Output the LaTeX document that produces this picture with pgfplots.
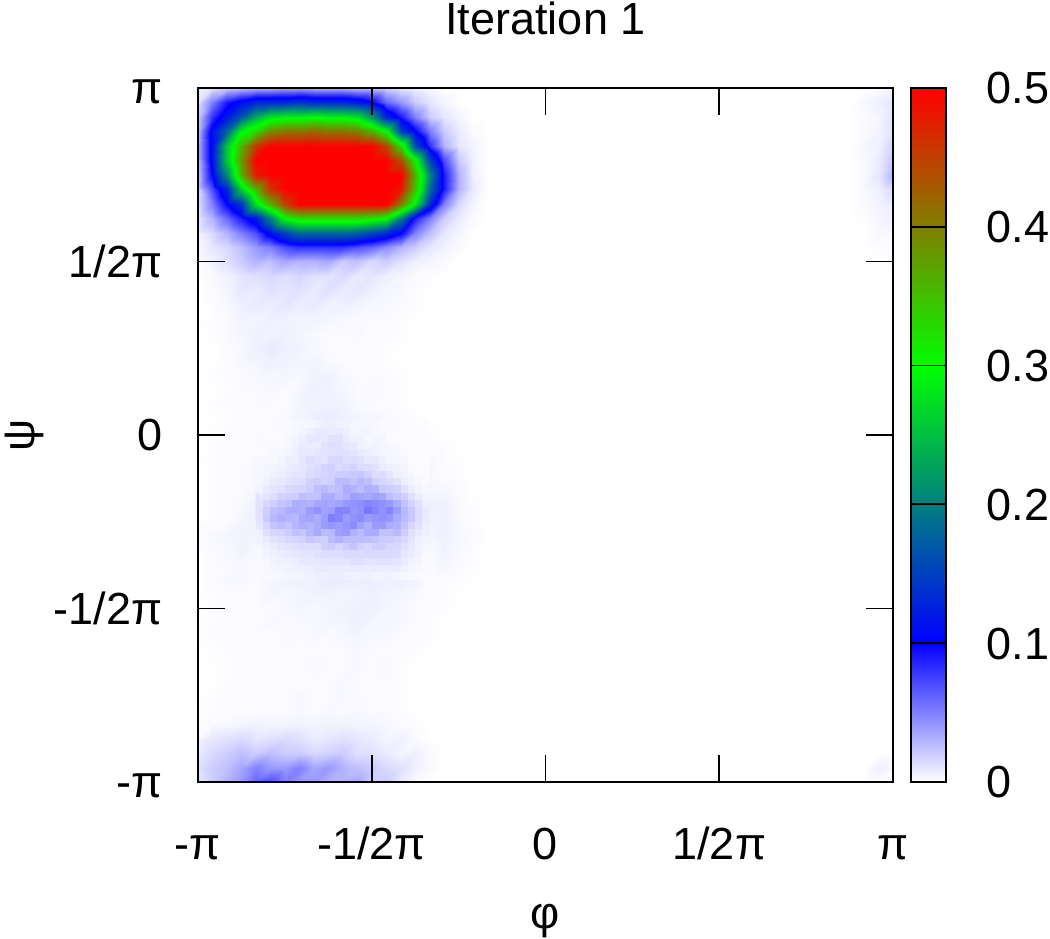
\documentclass[border=0pt]{standalone}
\usepackage{fontspec}
\setmainfont{Liberation Sans}
\usepackage{pgfplots}
\pgfplotsset{compat=1.18}
\pgfplotsset{colormap={gp}{rgb255(0)=(255,255,255) rgb255(1)=(0,0,255) rgb255(3)=(0,255,0) rgb255(5)=(255,0,0)}}
\newcommand{\lab}{\fontsize{45}{47}\selectfont}
\begin{document}
\begin{tikzpicture}[x=1pt,y=1pt]
\path[use as bounding box] (0,0) rectangle (1050,939);
\begin{axis}[
  at={(198pt,157pt)}, anchor=south west,
  scale only axis, width=695pt, height=694pt,
  xmin=-1, xmax=1, ymin=-1, ymax=1,
  axis on top, clip=true, colormap name=gp,
  axis line style={line width=1.8pt,black},
  tick style={line width=1.8pt,black},
  tick align=inside, major tick length=27pt,
  xtick={-1,-0.5,0,0.5,1}, ytick={-1,-0.5,0,0.5,1},
  xticklabels={-π,-1/2π,0,1/2π,π}, yticklabels={-π,-1/2π,0,1/2π,π},
  ticklabel style={font=\lab},
  xticklabel style={anchor=base, yshift=-78pt},
  yticklabel style={anchor=base east, xshift=-32pt, yshift=-16pt},
  point meta min=0, point meta max=0.5,
  title={Iteration 1},
  title style={font=\lab, at={(0.5,1)}, anchor=base, yshift=47pt},
  xlabel={φ}, xlabel style={font=\lab, at={(0.5,-0.2)}, anchor=center},
  ylabel={ψ}, ylabel style={font=\lab, inner sep=0pt, at={(-0.25,0.5)}, anchor=center, rotate=0},
]
\addplot[surf, shader=interp, mesh/cols=21, mesh/rows=49, point meta=\thisrowno{0}]
 table[header=false, row sep=crcr, x expr={-1+mod(\coordindex,21)/24}, y expr={1-floor(\coordindex/21)/24}, y index=0] {
.005\\.012\\.02\\.025\\.03\\.03\\.035\\.035\\.03\\.03\\.03\\.025\\.025\\.018\\.01\\.006\\.003\\0\\0\\0\\0\\
.012\\.05\\.09\\.11\\.13\\.13\\.13\\.14\\.13\\.13\\.13\\.12\\.1\\.06\\.04\\.02\\.01\\.004\\0\\0\\0\\
.02\\.08\\.12\\.17\\.24\\.28\\.29\\.29\\.3\\.29\\.29\\.28\\.22\\.13\\.09\\.05\\.02\\.01\\.004\\0\\0\\
.025\\.11\\.18\\.29\\.33\\.39\\.41\\.41\\.42\\.41\\.41\\.4\\.36\\.3\\.15\\.1\\.05\\.02\\.008\\.002\\0\\
.03\\.11\\.26\\.36\\.46\\.5\\.5\\.5\\.5\\.5\\.5\\.5\\.5\\.45\\.33\\.16\\.08\\.03\\.01\\.004\\0\\
.03\\.11\\.26\\.38\\.5\\.5\\.5\\.5\\.5\\.5\\.5\\.5\\.5\\.5\\.44\\.31\\.15\\.07\\.02\\.005\\0\\
.025\\.1\\.21\\.36\\.48\\.5\\.5\\.5\\.5\\.5\\.5\\.5\\.5\\.5\\.5\\.36\\.2\\.09\\.03\\.006\\0\\
.02\\.07\\.13\\.26\\.36\\.46\\.5\\.5\\.5\\.5\\.5\\.5\\.5\\.5\\.48\\.35\\.18\\.09\\.03\\.008\\0\\
.015\\.05\\.1\\.14\\.28\\.36\\.45\\.5\\.5\\.5\\.5\\.5\\.5\\.5\\.4\\.29\\.13\\.05\\.015\\.004\\0\\
.01\\.03\\.06\\.09\\.12\\.2\\.3\\.33\\.33\\.33\\.33\\.33\\.32\\.3\\.2\\.09\\.05\\.02\\.008\\.002\\0\\
.008\\.015\\.03\\.05\\.07\\.11\\.15\\.18\\.18\\.18\\.18\\.17\\.15\\.13\\.1\\.05\\.025\\.01\\.004\\0\\0\\
.004\\.01\\.015\\.025\\.04\\.05\\.07\\.08\\.08\\.08\\.08\\.07\\.06\\.045\\.03\\.02\\.01\\.005\\.002\\0\\0\\
.002\\.005\\.012\\.02\\.03\\.025\\.035\\.03\\.03\\.035\\.02\\.025\\.015\\.02\\.012\\.006\\.004\\.002\\0\\0\\0\\
.001\\.002\\.005\\.01\\.012\\.015\\.012\\.016\\.012\\.011\\.014\\.008\\.01\\.006\\.004\\.002\\.001\\0\\0\\0\\0\\
0\\.002\\.004\\.01\\.008\\.012\\.01\\.012\\.008\\.012\\.008\\.01\\.006\\.004\\.003\\.001\\0\\0\\0\\0\\0\\
0\\.001\\.003\\.006\\.008\\.007\\.01\\.007\\.008\\.005\\.006\\.005\\.003\\.003\\.002\\.001\\0\\0\\0\\0\\0\\
0\\.001\\.002\\.005\\.004\\.006\\.005\\.004\\.005\\.004\\.003\\.002\\.002\\.002\\.001\\0\\0\\0\\0\\0\\0\\
0\\.001\\.002\\.004\\.006\\.005\\.006\\.004\\.003\\.002\\.002\\.003\\.001\\.002\\.001\\0\\0\\0\\0\\0\\0\\
0\\0\\.002\\.003\\.006\\.008\\.006\\.005\\.003\\.002\\.001\\.002\\.001\\.001\\0\\0\\0\\0\\0\\0\\0\\
0\\0\\.001\\.003\\.004\\.006\\.005\\.004\\.005\\.003\\.002\\.001\\.001\\.001\\0\\0\\0\\0\\0\\0\\0\\
0\\.001\\.001\\.002\\.003\\.003\\.004\\.003\\.005\\.006\\.003\\.002\\.002\\.002\\.001\\0\\0\\0\\0\\0\\0\\
0\\0\\.001\\.002\\.002\\.003\\.002\\.004\\.006\\.005\\.004\\.002\\.003\\.002\\.001\\0\\0\\0\\0\\0\\0\\
0\\.001\\.001\\.001\\.002\\.002\\.002\\.004\\.005\\.006\\.005\\.003\\.002\\.002\\.001\\0\\0\\0\\0\\0\\0\\
0\\0\\.001\\.001\\.002\\.002\\.003\\.004\\.007\\.008\\.006\\.005\\.004\\.003\\.002\\.001\\0\\0\\0\\0\\0\\
0\\.001\\.001\\.002\\.002\\.002\\.003\\.006\\.01\\.012\\.009\\.008\\.006\\.004\\.003\\.002\\.001\\0\\0\\0\\0\\
0\\.001\\.001\\.002\\.002\\.003\\.005\\.008\\.012\\.013\\.012\\.011\\.009\\.007\\.004\\.003\\.002\\.001\\0\\0\\0\\
0\\.001\\.001\\.002\\.003\\.004\\.006\\.008\\.013\\.016\\.016\\.014\\.016\\.012\\.007\\.004\\.003\\.001\\.001\\0\\0\\
0\\.001\\.002\\.002\\.003\\.006\\.01\\.012\\.016\\.02\\.02\\.018\\.022\\.02\\.012\\.007\\.003\\.002\\.001\\0\\0\\
0\\.001\\.002\\.002\\.004\\.008\\.014\\.018\\.022\\.025\\.03\\.025\\.03\\.03\\.02\\.016\\.004\\.004\\.002\\0\\0\\
0\\.001\\.002\\.003\\.006\\.012\\.022\\.026\\.028\\.032\\.038\\.035\\.042\\.035\\.032\\.022\\.006\\.006\\.002\\.001\\0\\
0\\.001\\.002\\.004\\.005\\.012\\.02\\.024\\.028\\.032\\.042\\.035\\.036\\.034\\.028\\.024\\.005\\.006\\.003\\.001\\0\\
.001\\.003\\.004\\.005\\.004\\.008\\.012\\.015\\.02\\.022\\.02\\.028\\.03\\.022\\.022\\.018\\.004\\.006\\.003\\.002\\0\\
.001\\.002\\.003\\.005\\.003\\.007\\.008\\.01\\.012\\.018\\.016\\.018\\.016\\.016\\.016\\.012\\.002\\.005\\.003\\.001\\0\\
0\\.002\\.002\\.003\\.002\\.005\\.006\\.008\\.008\\.01\\.01\\.012\\.01\\.012\\.014\\.01\\.002\\.004\\.002\\.001\\0\\
0\\.002\\.003\\.003\\.002\\.004\\.005\\.006\\.006\\.008\\.008\\.007\\.007\\.006\\.007\\.005\\.001\\.002\\.001\\0\\0\\
0\\.001\\.002\\.002\\.002\\.004\\.003\\.004\\.005\\.005\\.004\\.005\\.006\\.004\\.004\\.003\\.002\\.001\\0\\0\\0\\
0\\.001\\.001\\.002\\.002\\.002\\.003\\.004\\.003\\.004\\.005\\.006\\.006\\.004\\.003\\.002\\.001\\.001\\0\\0\\0\\
0\\.001\\.001\\.002\\.002\\.003\\.002\\.003\\.003\\.004\\.004\\.006\\.004\\.004\\.003\\.002\\.001\\0\\0\\0\\0\\
.001\\.001\\.002\\.001\\.002\\.001\\.003\\.002\\.003\\.002\\.003\\.004\\.003\\.003\\.002\\.002\\.001\\0\\0\\0\\0\\
0\\.001\\.001\\.001\\.002\\.001\\.002\\.001\\.002\\.002\\.002\\.003\\.002\\.002\\.001\\.001\\0\\0\\0\\0\\0\\
0\\0\\.001\\.001\\.001\\.002\\.001\\.002\\.003\\.002\\.002\\.003\\.002\\.003\\.001\\0\\0\\0\\0\\0\\0\\
0\\0\\.001\\.001\\.001\\.001\\.002\\.001\\.002\\.002\\.003\\.002\\.002\\.002\\.001\\0\\0\\0\\0\\0\\0\\
0\\.001\\.001\\.001\\.001\\.002\\.002\\.003\\.002\\.002\\.003\\.002\\.002\\.001\\.001\\0\\0\\0\\0\\0\\0\\
0\\.001\\.001\\.002\\.001\\.002\\.002\\.003\\.002\\.003\\.002\\.003\\.002\\.002\\.001\\0\\0\\0\\0\\0\\0\\
.001\\.002\\.003\\.004\\.005\\.004\\.004\\.005\\.004\\.005\\.005\\.004\\.004\\.003\\.002\\.001\\0\\0\\0\\0\\0\\
.002\\.01\\.012\\.015\\.01\\.012\\.015\\.012\\.008\\.01\\.012\\.01\\.008\\.004\\.006\\.002\\0\\0\\0\\0\\0\\
.005\\.015\\.02\\.025\\.02\\.025\\.02\\.02\\.015\\.018\\.02\\.012\\.012\\.008\\.004\\.006\\.002\\0\\0\\0\\0\\
.012\\.02\\.025\\.035\\.05\\.04\\.04\\.05\\.035\\.04\\.03\\.025\\.02\\.015\\.012\\.006\\.002\\0\\0\\0\\0\\
.01\\.02\\.03\\.04\\.06\\.07\\.05\\.04\\.04\\.03\\.03\\.035\\.02\\.02\\.008\\.002\\0\\0\\0\\0\\0\\
};
\addplot[surf, shader=flat mean, mesh/cols=25, mesh/rows=23, point meta=\thisrowno{0}]
 table[header=false, row sep=crcr, x expr={-1+(4+mod(\coordindex,25)/2)/24}, y expr={1-(23+floor(\coordindex/25)/2)/24}, y index=0] {
.002\\.002\\.002\\.002\\.002\\.003\\.003\\.003\\.004\\.004\\.006\\.006\\.005\\.005\\.004\\.004\\.003\\.003\\.003\\.002\\.002\\.002\\.001\\.001\\.001\\
.002\\.002\\.002\\.003\\.002\\.002\\.004\\.004\\.003\\.008\\.009\\.005\\.006\\.004\\.002\\.004\\.005\\.002\\.002\\.003\\.002\\.001\\.001\\.001\\.001\\
.002\\.002\\.001\\.001\\.003\\.004\\.003\\.007\\.011\\.012\\.005\\.011\\.013\\.004\\.005\\.006\\.002\\.004\\.003\\.001\\.001\\.002\\.001\\.001\\.001\\
.002\\.003\\.002\\.002\\.002\\.005\\.006\\.009\\.01\\.005\\.012\\.016\\.008\\.006\\.009\\.003\\.003\\.006\\.002\\.002\\.002\\.001\\.001\\.001\\.001\\
.002\\.001\\.003\\.004\\.002\\.004\\.008\\.007\\.004\\.013\\.015\\.009\\.012\\.013\\.007\\.004\\.008\\.003\\.003\\.005\\.002\\.002\\.002\\.001\\.001\\
.002\\.002\\.004\\.002\\.005\\.006\\.009\\.012\\.013\\.01\\.006\\.015\\.016\\.008\\.012\\.012\\.005\\.005\\.006\\.002\\.003\\.003\\.001\\.001\\.001\\
.002\\.004\\.003\\.003\\.008\\.007\\.005\\.013\\.016\\.008\\.018\\.02\\.011\\.016\\.018\\.007\\.012\\.011\\.003\\.004\\.006\\.002\\.002\\.002\\.001\\
.003\\.003\\.005\\.007\\.004\\.01\\.012\\.008\\.011\\.02\\.023\\.012\\.014\\.024\\.013\\.017\\.018\\.006\\.01\\.008\\.003\\.004\\.002\\.001\\.002\\
.003\\.005\\.004\\.008\\.009\\.012\\.006\\.017\\.019\\.013\\.012\\.027\\.026\\.016\\.03\\.026\\.01\\.02\\.018\\.005\\.008\\.006\\.003\\.002\\.002\\
.003\\.004\\.009\\.012\\.007\\.014\\.018\\.012\\.024\\.026\\.018\\.02\\.036\\.03\\.019\\.036\\.028\\.016\\.012\\.022\\.01\\.005\\.005\\.003\\.002\\
.004\\.006\\.012\\.008\\.018\\.02\\.012\\.026\\.017\\.034\\.032\\.024\\.022\\.042\\.03\\.022\\.04\\.032\\.024\\.02\\.018\\.012\\.006\\.004\\.003\\
.005\\.013\\.011\\.02\\.024\\.014\\.032\\.03\\.022\\.024\\.04\\.036\\.028\\.03\\.05\\.044\\.03\\.048\\.034\\.022\\.028\\.017\\.014\\.006\\.004\\
.008\\.017\\.018\\.028\\.018\\.042\\.038\\.026\\.044\\.05\\.028\\.032\\.05\\.056\\.034\\.05\\.068\\.036\\.056\\.05\\.03\\.022\\.016\\.01\\.005\\
.01\\.012\\.03\\.024\\.038\\.03\\.022\\.04\\.046\\.03\\.036\\.058\\.054\\.032\\.042\\.046\\.05\\.038\\.04\\.048\\.026\\.032\\.015\\.012\\.006\\
.008\\.014\\.024\\.032\\.03\\.02\\.04\\.036\\.024\\.03\\.056\\.05\\.03\\.04\\.06\\.032\\.03\\.05\\.046\\.03\\.03\\.02\\.018\\.009\\.005\\
.006\\.012\\.012\\.026\\.016\\.024\\.03\\.022\\.038\\.042\\.028\\.03\\.046\\.05\\.03\\.024\\.038\\.04\\.024\\.03\\.032\\.014\\.012\\.008\\.005\\
.004\\.008\\.015\\.012\\.014\\.026\\.018\\.02\\.034\\.02\\.018\\.036\\.04\\.022\\.022\\.034\\.036\\.018\\.016\\.028\\.018\\.016\\.008\\.006\\.004\\
.003\\.006\\.006\\.012\\.013\\.01\\.012\\.02\\.014\\.012\\.024\\.028\\.016\\.028\\.03\\.016\\.014\\.024\\.024\\.012\\.014\\.012\\.006\\.004\\.003\\
.003\\.004\\.007\\.006\\.009\\.012\\.014\\.008\\.01\\.018\\.02\\.01\\.014\\.022\\.012\\.012\\.02\\.018\\.01\\.018\\.016\\.007\\.008\\.004\\.002\\
.002\\.004\\.004\\.006\\.008\\.006\\.007\\.012\\.012\\.008\\.008\\.014\\.014\\.008\\.016\\.017\\.01\\.012\\.016\\.014\\.008\\.008\\.005\\.003\\.002\\
.002\\.003\\.003\\.006\\.004\\.005\\.008\\.009\\.005\\.012\\.012\\.006\\.007\\.012\\.011\\.006\\.01\\.012\\.006\\.009\\.011\\.005\\.004\\.003\\.002\\
.002\\.003\\.003\\.003\\.005\\.006\\.004\\.004\\.008\\.007\\.005\\.009\\.008\\.004\\.006\\.008\\.006\\.004\\.007\\.006\\.004\\.004\\.003\\.002\\.002\\
.002\\.002\\.003\\.003\\.003\\.004\\.004\\.005\\.005\\.006\\.006\\.005\\.005\\.005\\.005\\.005\\.004\\.004\\.004\\.003\\.003\\.002\\.002\\.002\\.001\\
};
\addplot[surf, shader=interp, mesh/cols=4, mesh/rows=14, point meta=\thisrowno{0}]
 table[header=false, row sep=crcr, x expr={1-3/24+mod(\coordindex,4)/24}, y expr={1-floor(\coordindex/4)/24}, y index=0] {
0\\0\\.002\\.004\\
0\\.003\\.006\\.01\\
0\\.002\\.004\\.012\\
0\\.002\\.005\\.012\\
0\\.004\\.006\\.018\\
0\\.003\\.008\\.022\\
0\\.002\\.01\\.03\\
0\\.003\\.006\\.015\\
0\\.002\\.005\\.008\\
0\\.001\\.004\\.006\\
0\\0\\.003\\.003\\
0\\0\\.001\\.002\\
0\\0\\0\\.001\\
0\\0\\0\\0\\
};
\addplot[surf, shader=interp, mesh/cols=3, mesh/rows=3, point meta=\thisrowno{0}]
 table[header=false, row sep=crcr, x expr={1-2/24+mod(\coordindex,3)/24}, y expr={-1+2/24-floor(\coordindex/3)/24}, y index=0] {
0\\0\\.001\\
0\\.006\\.003\\
0\\.001\\.001\\
};
\end{axis}
\begin{axis}[
  at={(911pt,157pt)}, anchor=south west,
  scale only axis, width=35pt, height=694pt,
  xmin=0, xmax=1, ymin=0, ymax=0.5,
  axis on top, colormap name=gp,
  point meta min=0, point meta max=0.5,
  xtick=\empty,
  ytick={0,0.1,0.2,0.3,0.4,0.5},
  yticklabels={0,0.1,0.2,0.3,0.4,0.5},
  ytick pos=right, yticklabel pos=right,
  tick align=inside, major tick length=35pt,
  axis line style={line width=1.8pt,black},
  tick style={line width=1.8pt,black},
  yticklabel style={font=\lab, anchor=base west, xshift=37pt, yshift=-16pt},
]
\addplot[surf, shader=interp, mesh/cols=2, mesh/rows=6, point meta=y] table {
x y
0 0
1 0
0 0.1
1 0.1
0 0.2
1 0.2
0 0.3
1 0.3
0 0.4
1 0.4
0 0.5
1 0.5
};
\end{axis}
\end{tikzpicture}
\end{document}
